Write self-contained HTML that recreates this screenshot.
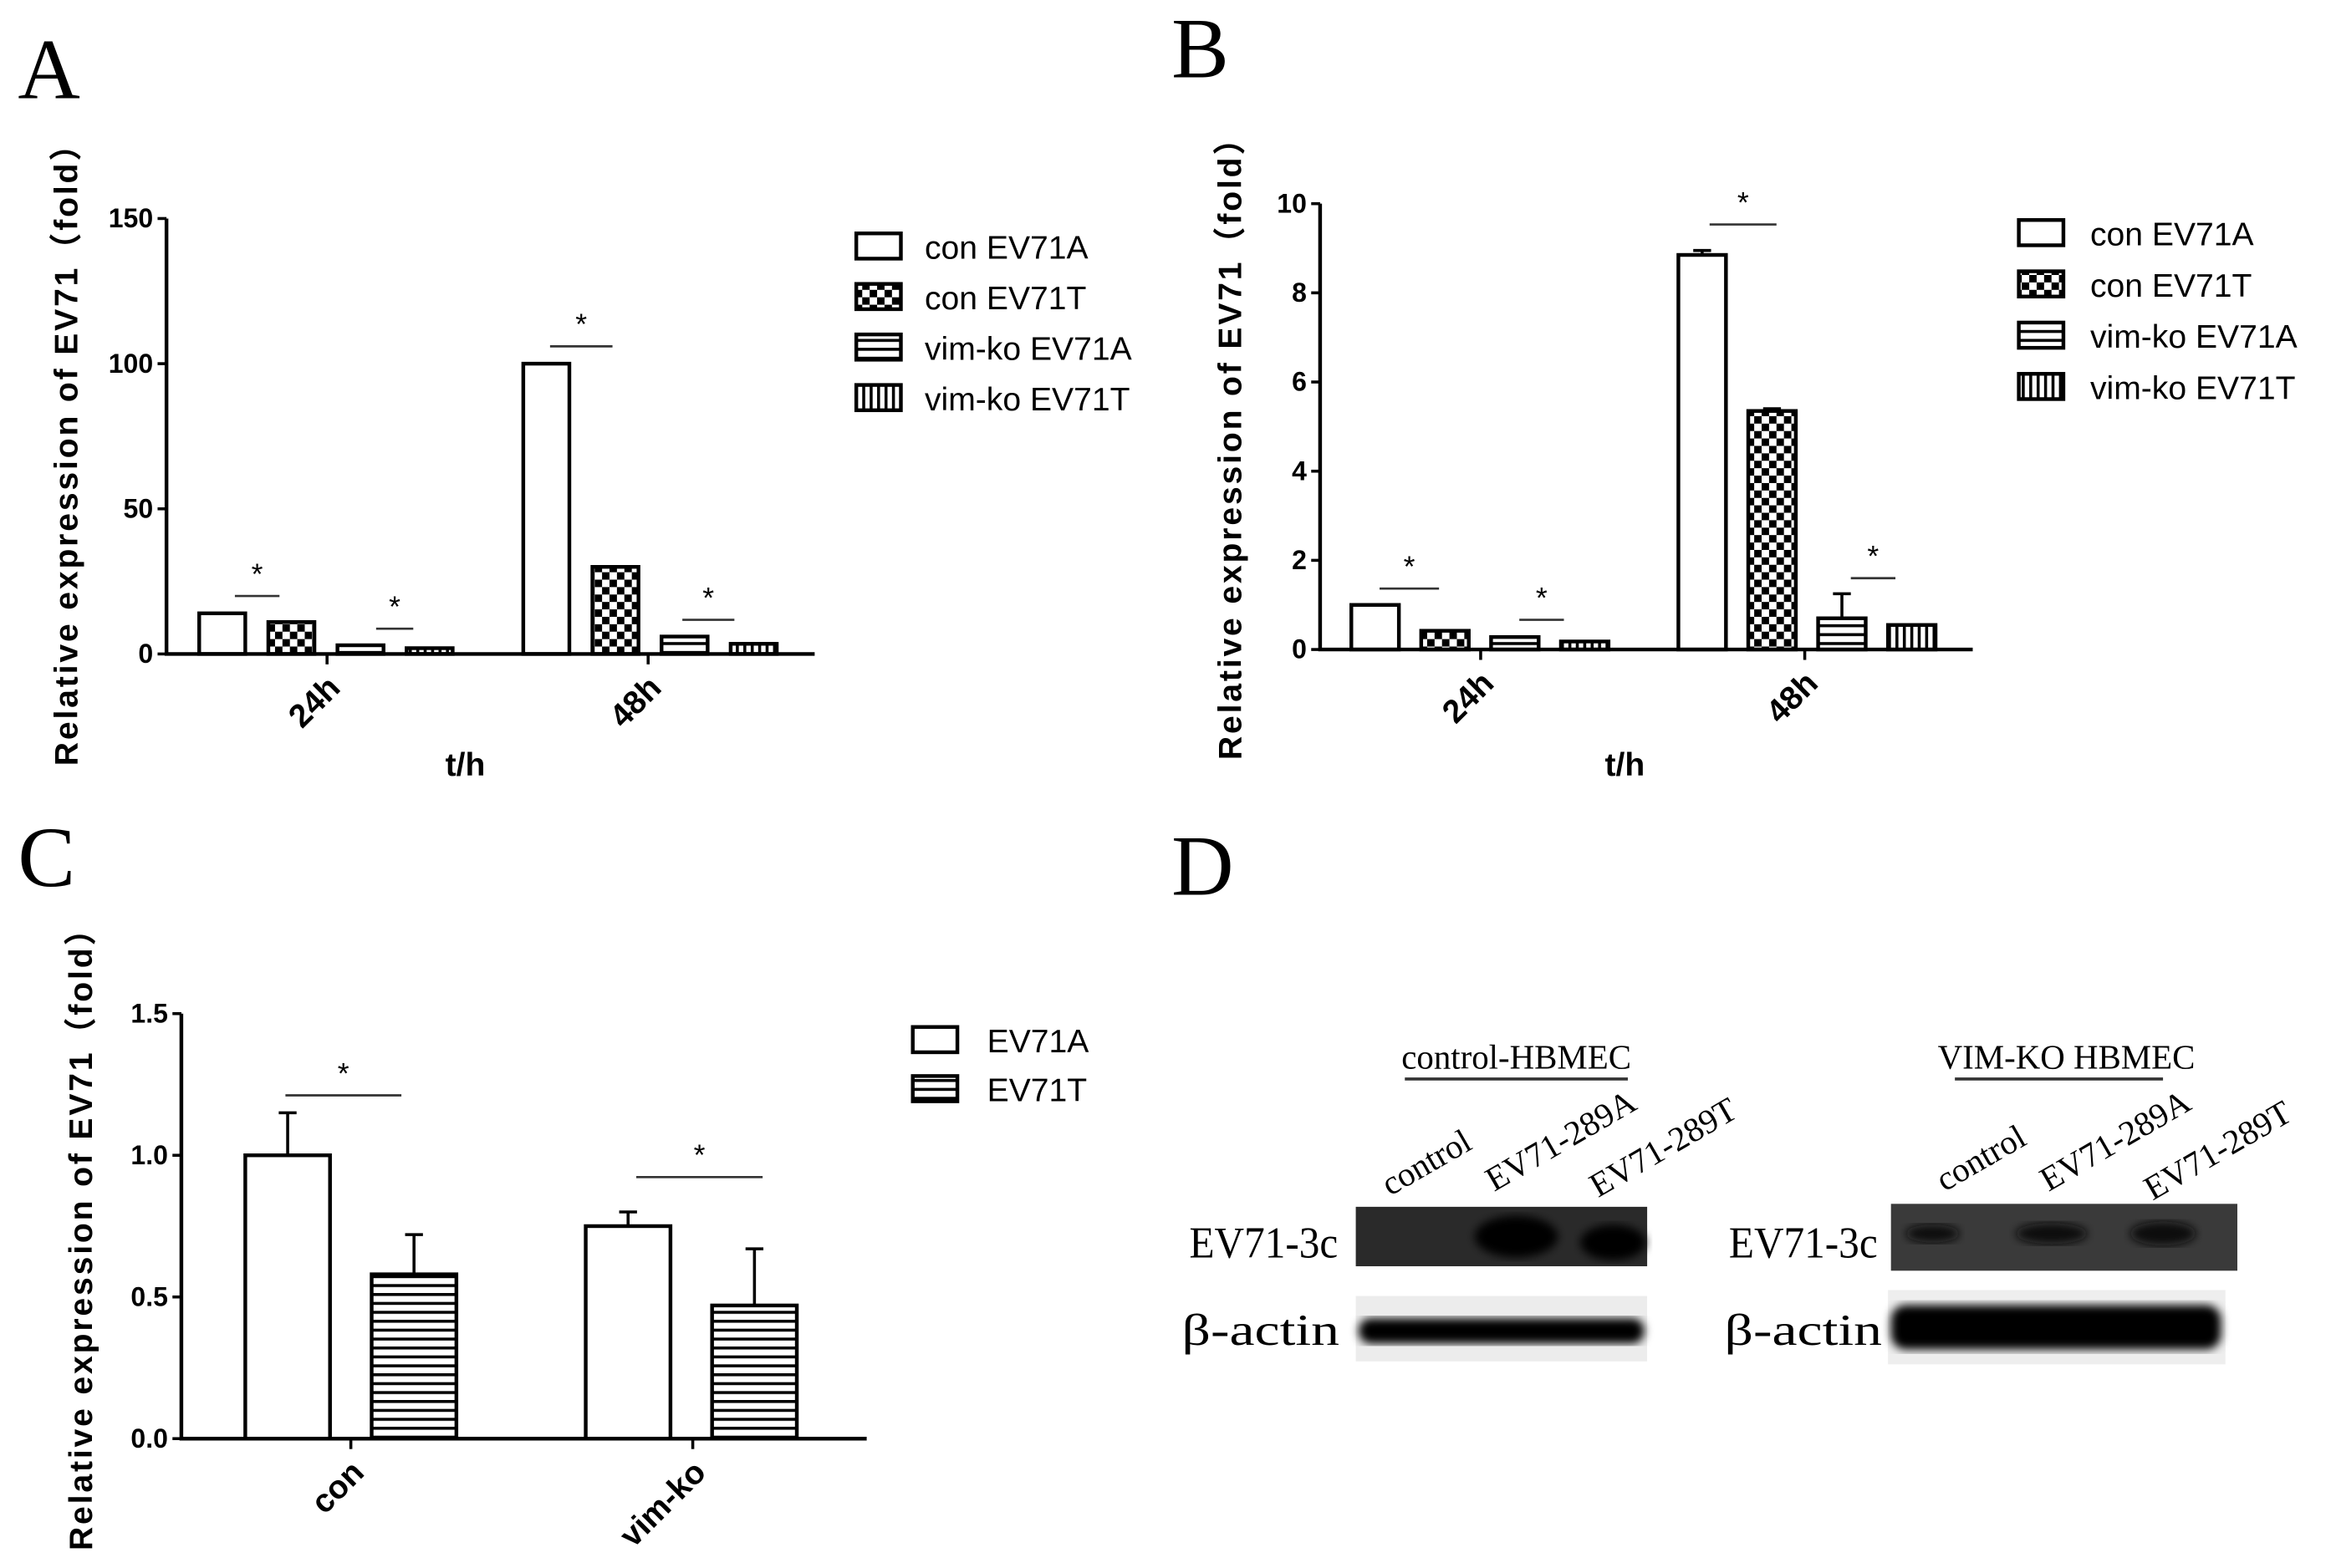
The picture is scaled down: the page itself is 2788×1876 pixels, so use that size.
<!DOCTYPE html>
<html><head><meta charset="utf-8"><style>
html,body{margin:0;padding:0;background:#fff;}
svg{display:block;}
text{font-family:"Liberation Sans","Noto Sans CJK SC",sans-serif;}
.tick{font-size:18px;font-weight:bold;}
.ttl{font-size:22px;font-weight:bold;letter-spacing:1.6px;}
.xt{font-size:22px;font-weight:bold;}
.leg{font-size:22px;}
.let{font-family:"Liberation Serif",serif;font-size:58px;}
.ser{font-family:"Liberation Serif","Noto Serif CJK SC",serif;}
</style></head><body>
<svg id="fig" width="2788" height="1876" viewBox="0 0 1568 1055" xmlns="http://www.w3.org/2000/svg">
<defs>
<pattern id="chk" width="10" height="10" patternUnits="userSpaceOnUse"><rect width="10" height="10" fill="#fff"/><rect width="5" height="5" fill="#000"/><rect x="5" y="5" width="5" height="5" fill="#000"/></pattern>
<pattern id="hor" width="6" height="6" patternUnits="userSpaceOnUse"><rect width="6" height="6" fill="#fff"/><rect width="6" height="2" fill="#000"/></pattern>
<pattern id="ver" width="5" height="5" patternUnits="userSpaceOnUse"><rect width="5" height="5" fill="#fff"/><rect width="2" height="5" fill="#000"/></pattern>
<filter id="blur3"><feGaussianBlur stdDeviation="3"/></filter>
</defs>
<g id="root"></g>
<g>
<text class="let" x="12" y="66">A</text>
<text class="let" x="788" y="52">B</text>
<text class="let" x="12" y="596">C</text>
<text class="let" x="788" y="602">D</text>
</g>
<g>
<text class="ser" x="1020" y="719" font-size="23" text-anchor="middle">control-HBMEC</text>
<line x1="945" y1="726" x2="1095" y2="726" stroke="#333" stroke-width="2"/>
<text class="ser" x="1390" y="719" font-size="23" text-anchor="middle">VIM-KO HBMEC</text>
<line x1="1315" y1="726" x2="1455" y2="726" stroke="#333" stroke-width="2"/>
<text class="ser" font-size="23" transform="translate(935,805) rotate(-30)">control</text>
<text class="ser" font-size="23" transform="translate(1005,802) rotate(-30)">EV71-289A</text>
<text class="ser" font-size="23" transform="translate(1075,806) rotate(-30)">EV71-289T</text>
<text class="ser" font-size="23" transform="translate(1308,802) rotate(-30)">control</text>
<text class="ser" font-size="23" transform="translate(1378,802) rotate(-30)">EV71-289A</text>
<text class="ser" font-size="23" transform="translate(1448,808) rotate(-30)">EV71-289T</text>
<text class="ser" x="800" y="846" font-size="30" textLength="100" lengthAdjust="spacingAndGlyphs">EV71-3c</text>
<text class="ser" x="795" y="905" font-size="30" textLength="106" lengthAdjust="spacingAndGlyphs">β-actin</text>
<text class="ser" x="1163" y="846" font-size="30" textLength="100" lengthAdjust="spacingAndGlyphs">EV71-3c</text>
<text class="ser" x="1160" y="905" font-size="30" textLength="106" lengthAdjust="spacingAndGlyphs">β-actin</text>
<rect x="912" y="812" width="196" height="40" fill="#2a2a2a"/>
<ellipse cx="1020" cy="832" rx="28" ry="14" fill="#000" filter="url(#blur3)"/>
<ellipse cx="1085" cy="836" rx="22" ry="12" fill="#000" filter="url(#blur3)"/>
<rect x="912" y="872" width="196" height="44" fill="#ececec"/>
<rect x="914" y="887" width="192" height="17" rx="8" fill="#000" filter="url(#blur3)"/>
<rect x="1272" y="810" width="233" height="45" fill="#3a3a3a"/>
<ellipse cx="1300" cy="830" rx="18" ry="6" fill="#111" filter="url(#blur3)"/>
<ellipse cx="1380" cy="830" rx="24" ry="7" fill="#111" filter="url(#blur3)"/>
<ellipse cx="1455" cy="830" rx="22" ry="8" fill="#111" filter="url(#blur3)"/>
<rect x="1270" y="868" width="227" height="50" fill="#eeeeee"/>
<rect x="1272" y="878" width="222" height="30" rx="10" fill="#000" filter="url(#blur3)"/>
</g>
</svg>
<script>
const NS="http://www.w3.org/2000/svg";
const root=document.getElementById('root');
function mk(tag,attrs,parent,txt){const e=document.createElementNS(NS,tag);for(const k in attrs)e.setAttribute(k,attrs[k]);if(txt!==undefined)e.textContent=txt;(parent||root).appendChild(e);return e;}

// Panel A data
const aGroups=["24h","48h"];
const aSeries=["con EV71A","con EV71T","vim-ko EV71A","vim-ko EV71T"];
const aValues=[[14,11,3,2],[100,30,6,3.5]];
const aTicks=[0,50,100,150];
// Panel B data
const bGroups=["24h","48h"];
const bValues=[[1.0,0.42,0.28,0.18],[8.85,5.35,0.7,0.55]];
const bErrors=[[0,0,0,0],[0.1,0.05,0.55,0]];
const bTicks=[0,2,4,6,8,10];
// Panel C data
const cGroups=["con","vim-ko"];
const cSeries=["EV71A","EV71T"];
const cValues=[[1.0,0.58],[0.75,0.47]];
const cErrors=[[0.15,0.14],[0.05,0.2]];
const cTicks=[0,0.5,1.0,1.5];

const fills=["#fff","url(#chk)","url(#hor)","url(#ver)"];
const fillsC=["#fff","url(#hor)"];

function panel(o){
  const g=mk('g',{});
  
  
  const y=v=>o.y0-(v-o.min)/(o.max-o.min)*(o.y0-o.yTop);
  o.values.forEach((grp,gi)=>{
    grp.forEach((v,si)=>{
      const x=o.gx[gi]+si*o.step;
      const r=mk('rect',{x:x,y:y(v),width:o.bw,height:o.y0-y(v),fill:o.fills[si],stroke:'#000','stroke-width':2.5},g);
      
      
      const e=o.errors?o.errors[gi][si]:0;
      if(e>0){
        const cx=x+o.bw/2;
        const l=mk('path',{d:`M${cx} ${y(v)}V${y(v+e)}M${cx-6} ${y(v+e)}H${cx+6}`,stroke:'#000','stroke-width':2,fill:'none'},g);
        
        
      }
    });
  });
  const ax=mk('path',{d:`M${o.x0} ${o.yTop}V${o.y0}H${o.xEnd}`,stroke:'#000','stroke-width':2.5,fill:'none'},g);
  
  
  o.ticks.forEach(t=>{
    mk('line',{x1:o.x0-6,x2:o.x0,y1:y(t),y2:y(t),stroke:'#000','stroke-width':2},g);
    const tl=mk('text',{x:o.x0-9,y:y(t)+6,'text-anchor':'end',class:'tick'},g,o.fmt(t));
    
    
  });
  o.groups.forEach((gn,gi)=>{
    const cx=o.tickX[gi];
    mk('line',{x1:cx,x2:cx,y1:o.y0,y2:o.y0+7,stroke:'#000','stroke-width':2},g);
    const t=mk('text',{class:'xt','text-anchor':'end',transform:`translate(${cx+10},${o.y0+24}) rotate(-45)`},g,gn);
    
    
  });
  const yt=mk('text',{class:'ttl','text-anchor':'middle',transform:`translate(${o.ytx},${o.yty}) rotate(-90)`},g,'Relative expression of EV71（fold）');
  
  
  if(o.xt){
    const xt=mk('text',{class:'xt','text-anchor':'middle',x:o.xt[0],y:o.xt[1]},g,'t/h');
    
    
  }
  o.sig.forEach(s=>{
    mk('line',{x1:s[0],x2:s[1],y1:s[2],y2:s[2],stroke:'#333','stroke-width':1.5},g);
    const st=mk('text',{x:(s[0]+s[1])/2,y:s[2]-8,'text-anchor':'middle','font-size':20},g,'*');
    
    
  });
  o.series.forEach((sn,si)=>{
    const ly=o.leg[1]+si*o.leg[3];
    mk('rect',{x:o.leg[0],y:ly-9,width:30,height:17,fill:o.fills[si],stroke:'#000','stroke-width':2.5},g);
    const lt=mk('text',{x:o.leg[2],y:ly+8,class:'leg'},g,sn);
    
    
  });
}
panel({name:'panel-a-chart',groups:aGroups,series:aSeries,values:aValues,fills:fills,ticks:aTicks,min:0,max:150,
  x0:112,y0:440,yTop:147,xEnd:548,gx:[134,352],step:46.5,bw:31,tickX:[220,436],fmt:t=>String(t),
  ytx:52,yty:300,xt:[313,522],sig:[[158,188,401],[253,278,423],[370,412,233],[459,494,417]],leg:[576,166,622,34]});
panel({name:'panel-b-chart',groups:bGroups,series:aSeries,values:bValues,errors:bErrors,fills:fills,ticks:bTicks,min:0,max:10,
  x0:888,y0:437,yTop:137,xEnd:1327,gx:[909,1129],step:47,bw:32,tickX:[996,1214],fmt:t=>String(t),
  ytx:835,yty:296,xt:[1093,522],sig:[[928,968,396],[1022,1052,417],[1150,1195,151],[1245,1275,389]],leg:[1358,157,1406,34.5]});
panel({name:'panel-c-chart',groups:cGroups,series:cSeries,values:cValues,errors:cErrors,fills:fillsC,ticks:cTicks,min:0,max:1.5,
  x0:122,y0:968,yTop:682,xEnd:583,gx:[165,394],step:85,bw:57,tickX:[236,466],fmt:t=>t.toFixed(1),
  ytx:62,yty:828,sig:[[192,270,737],[428,513,792]],leg:[614,700,664,33]});
</script>
</body></html>
